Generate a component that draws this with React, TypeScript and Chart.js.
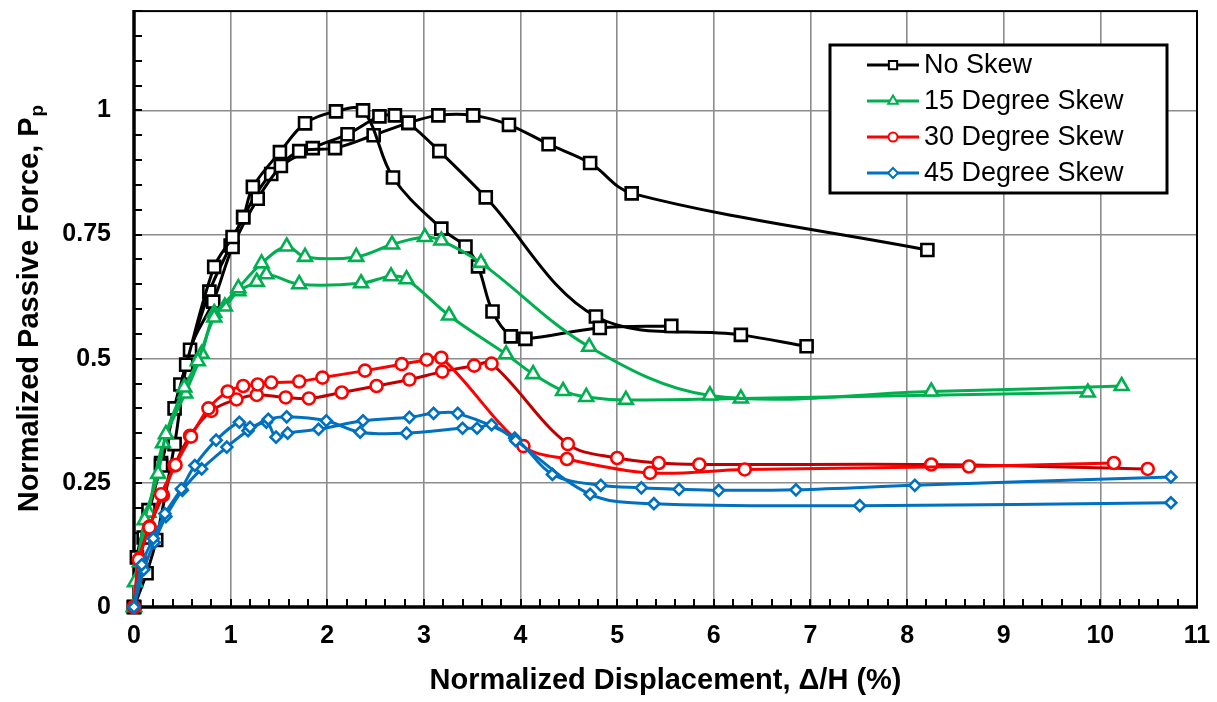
import React, { useEffect, useRef } from "react";
import { Chart, registerables } from "chart.js";

Chart.register(...registerables);

// ---------------- data ----------------
const seriesNames = ["No Skew", "15 Degree Skew", "30 Degree Skew", "45 Degree Skew"];
const xTickValues = [0, 1, 2, 3, 4, 5, 6, 7, 8, 9, 10, 11];
const yTickValues = [0, 0.25, 0.5, 0.75, 1];

// No Skew (three tests)
const noSkew1X = [0, 0.03, 0.15, 0.28, 0.42, 0.54, 0.83, 1.02, 1.13, 1.23, 1.51, 1.77, 2.09, 2.37, 2.68, 3.18, 3.43, 3.56, 3.71, 3.9, 4.05, 4.82, 5.56];
const noSkew1Y = [0, 0.1, 0.195, 0.285, 0.4, 0.488, 0.685, 0.745, 0.785, 0.846, 0.916, 0.974, 0.998, 1.0, 0.865, 0.762, 0.726, 0.686, 0.595, 0.545, 0.54, 0.562, 0.566];
const noSkew2X = [0, 0.13, 0.23, 0.42, 0.58, 0.82, 1.02, 1.28, 1.52, 1.71, 2.08, 2.48, 2.84, 3.15, 3.51, 3.88, 4.29, 4.72, 5.15, 8.21];
const noSkew2Y = [0, 0.068, 0.135, 0.328, 0.518, 0.615, 0.725, 0.822, 0.888, 0.918, 0.924, 0.95, 0.975, 0.99, 0.99, 0.971, 0.932, 0.894, 0.833, 0.719];
const noSkew3X = [0, 0.1, 0.28, 0.48, 0.78, 1.0, 1.13, 1.42, 1.85, 2.21, 2.54, 2.7, 2.84, 3.16, 3.64, 4.78, 6.28, 6.96];
const noSkew3Y = [0, 0.14, 0.29, 0.448, 0.635, 0.728, 0.785, 0.872, 0.924, 0.952, 0.988, 0.99, 0.975, 0.918, 0.825, 0.585, 0.548, 0.525];

// 15 Degree Skew (two tests)
const skew15aX = [0, 0.01, 0.11, 0.25, 0.33, 0.52, 0.66, 0.83, 1.08, 1.32, 1.58, 1.77, 2.3, 2.67, 3.01, 3.18, 3.59, 4.71, 5.96, 8.25, 10.22];
const skew15aY = [0, 0.05, 0.175, 0.268, 0.348, 0.442, 0.495, 0.583, 0.642, 0.692, 0.726, 0.705, 0.705, 0.73, 0.745, 0.738, 0.693, 0.524, 0.426, 0.434, 0.445];
const skew15bX = [0, 0.06, 0.15, 0.3, 0.53, 0.7, 0.83, 0.94, 1.08, 1.27, 1.37, 1.71, 2.35, 2.66, 2.82, 3.26, 3.85, 4.13, 4.44, 4.68, 5.09, 6.28, 9.87];
const skew15bY = [0, 0.09, 0.19, 0.33, 0.43, 0.51, 0.592, 0.605, 0.636, 0.655, 0.67, 0.65, 0.652, 0.666, 0.66, 0.587, 0.509, 0.469, 0.435, 0.423, 0.417, 0.42, 0.432];

// 30 Degree Skew (two tests)
const skew30aX = [0, 0.05, 0.16, 0.28, 0.43, 0.59, 0.77, 0.97, 1.13, 1.28, 1.42, 1.71, 1.95, 2.39, 2.77, 3.03, 3.18, 4.03, 4.48, 5.34, 6.32, 8.64, 10.14];
const skew30aY = [0, 0.095, 0.16, 0.227, 0.286, 0.343, 0.4, 0.434, 0.445, 0.448, 0.452, 0.454, 0.462, 0.476, 0.489, 0.498, 0.502, 0.324, 0.298, 0.27, 0.277, 0.283, 0.29];
const skew30bX = [0, 0.06, 0.16, 0.3, 0.42, 0.58, 0.8, 1.06, 1.27, 1.57, 1.81, 2.15, 2.51, 2.85, 3.19, 3.52, 3.7, 4.49, 5.0, 5.43, 5.85, 8.25, 10.49];
const skew30bY = [0, 0.098, 0.162, 0.225, 0.285, 0.345, 0.395, 0.418, 0.427, 0.422, 0.42, 0.432, 0.445, 0.458, 0.474, 0.486, 0.49, 0.328, 0.3, 0.29, 0.287, 0.287, 0.278];

// 45 Degree Skew (two tests)
const skew45aX = [0, 0.08, 0.2, 0.32, 0.49, 0.63, 0.85, 1.09, 1.2, 1.39, 1.58, 1.99, 2.34, 2.82, 3.4, 3.55, 3.7, 3.95, 4.72, 5.38, 7.51, 10.73];
const skew45aY = [0, 0.085, 0.138, 0.188, 0.238, 0.285, 0.336, 0.372, 0.362, 0.378, 0.383, 0.375, 0.352, 0.35, 0.36, 0.36, 0.367, 0.335, 0.227, 0.208, 0.204, 0.21];
const skew45bX = [0, 0.1, 0.21, 0.33, 0.5, 0.7, 0.96, 1.18, 1.37, 1.47, 1.59, 1.91, 2.37, 2.85, 3.1, 3.35, 3.94, 4.33, 4.83, 5.25, 5.64, 6.05, 6.85, 8.08, 10.73];
const skew45bY = [0, 0.075, 0.13, 0.182, 0.235, 0.278, 0.322, 0.355, 0.372, 0.342, 0.35, 0.358, 0.375, 0.382, 0.39, 0.39, 0.34, 0.267, 0.245, 0.24, 0.237, 0.235, 0.236, 0.245, 0.262];

// ---------------- styles ----------------
const FONT = "'Liberation Sans', Arial, Helvetica, sans-serif";
const BLACK = "#000000";
const GREEN = "#00B050";
const RED = "#FF0000";
const DARK_RED = "#C00000";
const BLUE = "#0070C0";

const legendStyles = [
  { color: BLACK, marker: BLACK, style: "rect", r: 5.5 },
  { color: GREEN, marker: GREEN, style: "triangle", r: 5.5 },
  { color: RED, marker: RED, style: "circle", r: 4.5 },
  { color: BLUE, marker: BLUE, style: "rectRot", r: 5 },
];

function pts(xs: number[], ys: number[]) {
  return xs.map((x, i) => ({ x, y: ys[i] }));
}

function makeDataset(label: string, xs: number[], ys: number[], line: string, marker: string, style: string, r: number) {
  return {
    label,
    data: pts(xs, ys),
    borderColor: line,
    borderWidth: 3,
    tension: 0.35,
    fill: false,
    clip: false as any,
    pointStyle: style,
    pointRadius: r,
    pointBorderColor: marker,
    pointBackgroundColor: "#ffffff",
    pointBorderWidth: 2.6,
  };
}

const framePlugin = {
  id: "frame",
  beforeDatasetsDraw(chart: any) {
    const { ctx, chartArea: a, scales } = chart;
    const xs = scales.x;
    const ys = scales.y;
    ctx.save();
    ctx.strokeStyle = "#000";
    ctx.lineWidth = 2;
    ctx.beginPath();
    for (let i = 0; i <= 24; i++) {
      const py = Math.round(ys.getPixelForValue(i * 0.05));
      ctx.moveTo(a.left, py);
      ctx.lineTo(a.left + 8, py);
    }
    for (let i = 0; i <= 55; i++) {
      const px = Math.round(xs.getPixelForValue(i * 0.2));
      ctx.moveTo(px, a.bottom);
      ctx.lineTo(px, a.bottom - 8);
    }
    ctx.stroke();
    ctx.lineWidth = 2;
    ctx.strokeRect(a.left, a.top, a.right - a.left, a.bottom - a.top);
    ctx.lineWidth = 3.5;
    ctx.beginPath();
    ctx.moveTo(a.left, a.top - 1);
    ctx.lineTo(a.left, a.bottom);
    ctx.lineTo(a.right + 1, a.bottom);
    ctx.stroke();
    ctx.restore();
  },
};

function drawMarker(ctx: CanvasRenderingContext2D, style: string, x: number, y: number, r: number, color: string) {
  ctx.save();
  ctx.strokeStyle = color;
  ctx.fillStyle = "#fff";
  ctx.lineWidth = 2;
  ctx.beginPath();
  if (style === "rect") {
    ctx.rect(x - r * 0.75, y - r * 0.75, r * 1.5, r * 1.5);
  } else if (style === "triangle") {
    ctx.moveTo(x, y - r);
    ctx.lineTo(x + r * 0.87, y + r * 0.5);
    ctx.lineTo(x - r * 0.87, y + r * 0.5);
    ctx.closePath();
  } else if (style === "circle") {
    ctx.arc(x, y, r, 0, Math.PI * 2);
  } else {
    ctx.moveTo(x, y - r);
    ctx.lineTo(x + r, y);
    ctx.lineTo(x, y + r);
    ctx.lineTo(x - r, y);
    ctx.closePath();
  }
  ctx.fill();
  ctx.stroke();
  ctx.restore();
}

const overlayPlugin = {
  id: "overlay",
  afterDraw(chart: any) {
    const { ctx, chartArea: a } = chart;
    ctx.save();
    ctx.fillStyle = "#000";
    ctx.font = `bold 29px ${FONT}`;
    ctx.textAlign = "center";
    ctx.textBaseline = "middle";
    ctx.fillText("Normalized Displacement, \u0394/H (%)", (a.left + a.right) / 2, 681);

    const main = "Normalized Passive Force, P";
    const sub = "p";
    ctx.font = `bold 29px ${FONT}`;
    const mw = ctx.measureText(main).width;
    ctx.font = `bold 19px ${FONT}`;
    const sw = ctx.measureText(sub).width;
    const total = mw + sw;
    ctx.translate(30, (a.top + a.bottom) / 2);
    ctx.rotate(-Math.PI / 2);
    ctx.textAlign = "left";
    ctx.font = `bold 29px ${FONT}`;
    ctx.fillText(main, -total / 2, 0);
    ctx.font = `bold 19px ${FONT}`;
    ctx.fillText(sub, -total / 2 + mw + 1, 8);
    ctx.restore();

    // legend
    ctx.save();
    const bx = 830, by = 45, bw = 337, bh = 148;
    ctx.fillStyle = "#fff";
    ctx.fillRect(bx, by, bw, bh);
    ctx.strokeStyle = "#000";
    ctx.lineWidth = 3;
    ctx.strokeRect(bx, by, bw, bh);
    ctx.font = `27px ${FONT}`;
    ctx.textAlign = "left";
    ctx.textBaseline = "middle";
    seriesNames.forEach((name, i) => {
      const st = legendStyles[i];
      const y = by + 20 + i * 36;
      ctx.strokeStyle = st.color;
      ctx.lineWidth = 3;
      ctx.beginPath();
      ctx.moveTo(867, y);
      ctx.lineTo(919, y);
      ctx.stroke();
      drawMarker(ctx, st.style, 893, y, st.r, st.marker);
      ctx.fillStyle = "#000";
      ctx.fillText(name, 924, y + 1);
    });
    ctx.restore();
  },
};

export default function App() {
  const ref = useRef<HTMLCanvasElement | null>(null);
  useEffect(() => {
    if (!ref.current) return;
    const datasets = [
      makeDataset(seriesNames[3], skew45aX, skew45aY, BLUE, BLUE, "rectRot", 5.5),
      makeDataset(seriesNames[3], skew45bX, skew45bY, BLUE, BLUE, "rectRot", 5.5),
      makeDataset(seriesNames[2], skew30aX, skew30aY, RED, RED, "circle", 6),
      makeDataset(seriesNames[2], skew30bX, skew30bY, DARK_RED, RED, "circle", 6),
      makeDataset(seriesNames[1], skew15aX, skew15aY, GREEN, GREEN, "triangle", 8),
      makeDataset(seriesNames[1], skew15bX, skew15bY, GREEN, GREEN, "triangle", 8),
      makeDataset(seriesNames[0], noSkew1X, noSkew1Y, BLACK, BLACK, "rect", 8.5),
      makeDataset(seriesNames[0], noSkew2X, noSkew2Y, BLACK, BLACK, "rect", 8.5),
      makeDataset(seriesNames[0], noSkew3X, noSkew3Y, BLACK, BLACK, "rect", 8.5),
    ];
    const chart = new Chart(ref.current, {
      type: "line",
      data: { datasets: datasets as any },
      options: {
        responsive: false,
        animation: false,
        layout: { padding: { top: 8, right: 20, left: 0, bottom: 0 } },
        plugins: { legend: { display: false }, tooltip: { enabled: false }, title: { display: false } },
        scales: {
          x: {
            type: "linear",
            min: 0,
            max: 11,
            afterFit: (s: any) => {
              s.height = 95;
              s.paddingLeft = 0;
              s.paddingRight = 0;
            },
            afterBuildTicks: (s: any) => {
              s.ticks = xTickValues.map((v) => ({ value: v }));
            },
            ticks: {
              stepSize: 1,
              color: "#000",
              font: { family: FONT, size: 25, weight: "bold" },
              padding: 14,
              maxRotation: 0,
              autoSkip: false,
            },
            grid: { color: "#8c8c8c", lineWidth: 1.6, drawTicks: false },
            border: { display: false },
          },
          y: {
            type: "linear",
            min: 0,
            max: 1.2,
            afterFit: (s: any) => {
              s.width = 134;
              s.paddingTop = 0;
              s.paddingBottom = 0;
            },
            afterBuildTicks: (s: any) => {
              s.ticks = yTickValues.map((v) => ({ value: v }));
            },
            ticks: {
              color: "#000",
              font: { family: FONT, size: 25, weight: "bold" },
              padding: 23,
              autoSkip: false,
              callback: (v: any) => String(v),
            },
            grid: { color: "#8c8c8c", lineWidth: 1.6, drawTicks: false },
            border: { display: false },
          },
        },
      },
      plugins: [framePlugin, overlayPlugin],
    });
    return () => chart.destroy();
  }, []);

  return (
    <div style={{ position: "absolute", left: 0, top: 0, width: 1217, height: 702, background: "#fff" }}>
      <canvas ref={ref} width={1217} height={702} style={{ width: 1217, height: 702, display: "block" }} />
    </div>
  );
}
